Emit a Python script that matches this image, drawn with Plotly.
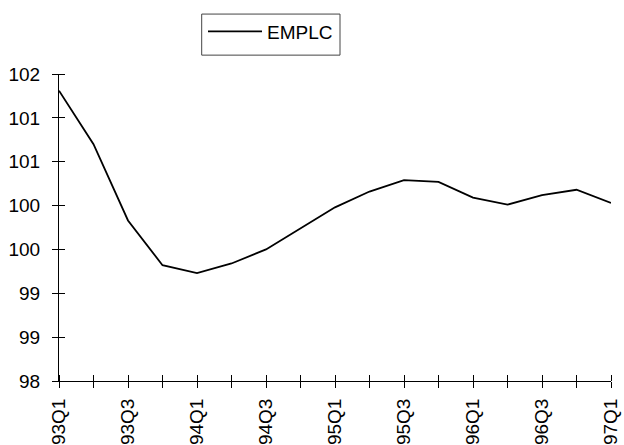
import plotly.graph_objects as go

quarters = ["93Q1", "93Q2", "93Q3", "93Q4", "94Q1", "94Q2", "94Q3", "94Q4",
            "95Q1", "95Q2", "95Q3", "95Q4", "96Q1", "96Q2", "96Q3", "96Q4", "97Q1"]
emplc = [101.31, 100.70, 99.83, 99.32, 99.23, 99.34, 99.50, 99.74,
         99.98, 100.16, 100.29, 100.27, 100.09, 100.01, 100.12, 100.18, 100.03]
y_tickvals = [98.0, 98.5, 99.0, 99.5, 100.0, 100.5, 101.0, 101.5]
y_ticktext = ["98", "99", "99", "100", "100", "101", "101", "102"]

xs = list(range(len(quarters)))
x_ticktext = [q if i % 2 == 0 else "" for i, q in enumerate(quarters)]

FONT = "Liberation Sans, Arial, sans-serif"
FS = 19
EPS = 1e-7  # minor ticks sit on the major ones, giving ticks that cross the axis

# plot area in pixels
L, R, T, B = 59, 13, 67, 64
W, H = 624, 445
pw, ph = W - L - R, H - T - B


def px_x(p):
    return (p - L) / pw


def px_y(p):
    return (H - B - p) / ph


fig = go.Figure()
fig.add_trace(go.Scatter(x=xs, y=emplc, mode="lines", name="EMPLC",
                         line=dict(color="black", width=1.8)))

fig.update_layout(
    width=W, height=H,
    margin=dict(l=L, r=R, t=T, b=B),
    paper_bgcolor="white", plot_bgcolor="white",
    font=dict(family=FONT, size=FS, color="black"),
    showlegend=True,
    legend=dict(x=px_x(203), y=px_y(23.5), xanchor="left", yanchor="middle",
                borderwidth=0, bgcolor="rgba(0,0,0,0)", font=dict(size=FS),
                itemwidth=54),
    xaxis=dict(range=[0, len(quarters) - 1], tickmode="array", tickvals=xs,
               ticktext=x_ticktext, tickangle=-90, showgrid=False, zeroline=False,
               showline=True, linecolor="black", linewidth=1, automargin=False,
               ticks="outside", ticklen=6, tickwidth=1, tickcolor="black",
               ticklabelstandoff=3, tickfont=dict(size=FS),
               minor=dict(tickmode="array", tickvals=[v + EPS for v in xs],
                          ticks="inside", ticklen=6, tickwidth=1,
                          tickcolor="black", showgrid=False)),
    yaxis=dict(range=[98, 101.5], tickmode="array", tickvals=y_tickvals,
               ticktext=y_ticktext, showgrid=False, zeroline=False,
               showline=True, linecolor="black", linewidth=1, automargin=False,
               ticks="outside", ticklen=6, tickwidth=1, tickcolor="black",
               ticklabelstandoff=8, tickfont=dict(size=FS),
               minor=dict(tickmode="array", tickvals=[v + EPS for v in y_tickvals],
                          ticks="inside", ticklen=6, tickwidth=1,
                          tickcolor="black", showgrid=False)),
    shapes=[dict(type="rect", xref="paper", yref="paper",
                 x0=px_x(201.7), x1=px_x(340), y0=px_y(47.7), y1=px_y(5.7),
                 line=dict(color="#444", width=1), fillcolor="rgba(0,0,0,0)")],
)

fig.write_html("out.html", config={"displayModeBar": False},
               post_script="document.body.style.margin='0px';"
                           "document.body.style.overflow='hidden';")
